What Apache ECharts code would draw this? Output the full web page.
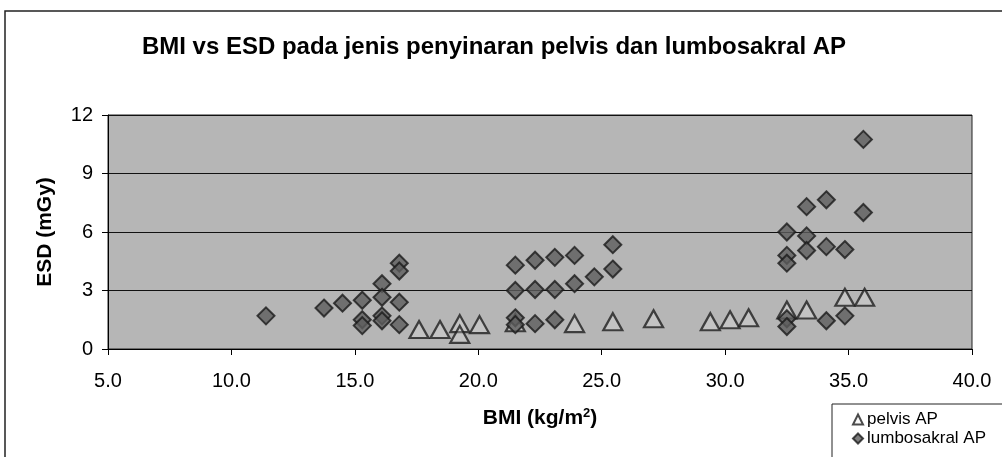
<!DOCTYPE html>
<html>
<head>
<meta charset="utf-8">
<script src="https://cdn.jsdelivr.net/npm/echarts@6/dist/echarts.min.js"></script>
<style>
  html, body { margin: 0; padding: 0; background: #ffffff; }
  #chart { width: 1002px; height: 457px; }
</style>
</head>
<body>
<div id="chart"></div>
<script>
// BMI (kg/m2) and ESD (mGy) per examination
const pelvisBMI = [17.6, 18.45, 19.25, 19.25, 20.05, 21.5, 23.9, 25.45, 27.1, 29.4, 30.2, 30.95, 32.5, 33.3, 34.85, 35.65];
const pelvisESD = [1.0, 1.0, 1.3, 0.75, 1.25, 1.35, 1.3, 1.4, 1.55, 1.4, 1.5, 1.6, 2.0, 2.0, 2.65, 2.65];

const lumboBMI = [11.4, 13.75, 14.5, 15.3, 15.3, 15.3, 16.1, 16.1, 16.1, 16.1, 16.8, 16.8, 16.8, 16.8,
  21.5, 21.5, 21.5, 21.5, 22.3, 22.3, 22.3, 23.1, 23.1, 23.1, 23.9, 23.9, 24.7, 25.45, 25.45,
  32.5, 32.5, 32.5, 32.5, 32.5, 33.3, 33.3, 33.3, 34.1, 34.1, 34.1, 34.85, 34.85, 35.6, 35.6];
const lumboESD = [1.7, 2.1, 2.35, 2.5, 1.5, 1.2, 3.35, 2.65, 1.7, 1.45, 4.4, 4.0, 2.4, 1.25,
  4.3, 3.0, 1.6, 1.25, 4.55, 3.05, 1.3, 4.7, 3.05, 1.5, 4.8, 3.35, 3.7, 5.35, 4.1,
  6.0, 4.8, 4.4, 1.55, 1.15, 7.3, 5.8, 5.05, 7.65, 5.25, 1.45, 5.1, 1.7, 10.75, 7.0];

const seriesNames = ['pelvis AP', 'lumbosakral AP'];
const titleText = 'BMI vs ESD pada jenis penyinaran pelvis dan lumbosakral AP';

const pairs = (xs, ys) => xs.map((x, i) => [x, ys[i]]);
const FONT = '"Liberation Sans", Arial, sans-serif';

const chart = echarts.init(document.getElementById('chart'), null, { renderer: 'canvas' });
chart.setOption({
  animation: false,
  backgroundColor: '#ffffff',
  title: {
    text: titleText,
    left: 489,
    textAlign: 'center',
    top: 30,
    textStyle: { fontFamily: FONT, fontSize: 24, fontWeight: 'bold', color: '#000' }
  },
  grid: {
    left: 108, right: 30, top: 115, bottom: 108,
    show: true,
    backgroundColor: '#b6b6b6',
    borderColor: '#222',
    borderWidth: 1
  },
  xAxis: {
    type: 'value',
    min: 5, max: 40, interval: 5,
    name: 'BMI (kg/m{sup|2})',
    nameLocation: 'middle',
    nameGap: 58,
    nameTextStyle: {
      fontFamily: FONT, fontSize: 21, fontWeight: 'bold', color: '#000',
      rich: { sup: { fontFamily: FONT, fontSize: 13, fontWeight: 'bold', verticalAlign: 'top', padding: [0, 0, 10, 0], color: '#000' } }
    },
    axisLine: { show: true, onZero: false, lineStyle: { color: '#000', width: 1 } },
    axisTick: { show: true, inside: false, length: 6, lineStyle: { color: '#000' } },
    axisLabel: { margin: 22, fontFamily: FONT, fontSize: 20, color: '#000', formatter: v => v.toFixed(1) },
    splitLine: { show: false }
  },
  yAxis: {
    type: 'value',
    min: 0, max: 12, interval: 3,
    name: 'ESD (mGy)',
    nameLocation: 'middle',
    nameGap: 52,
    nameRotate: 90,
    nameTextStyle: { fontFamily: FONT, fontSize: 21, fontWeight: 'bold', color: '#000' },
    axisLine: { show: true, lineStyle: { color: '#000', width: 1 } },
    axisTick: { show: true, inside: false, length: 6, lineStyle: { color: '#000' } },
    axisLabel: { margin: 15, fontFamily: FONT, fontSize: 20, color: '#000' },
    splitLine: { show: true, lineStyle: { color: '#111', width: 1 } }
  },
  legend: {
    orient: 'vertical',
    left: 847, top: 406,
    itemWidth: 10, itemHeight: 10, itemGap: 2,
    textStyle: { fontFamily: FONT, fontSize: 17, color: '#000', padding: [0, 0, 0, -1] },
    data: seriesNames
  },
  series: [
    {
      name: seriesNames[0],
      type: 'scatter',
      symbol: 'triangle',
      symbolSize: [19, 17],
      itemStyle: { color: 'rgba(235,235,235,0.35)', borderColor: '#1e1e1e', borderWidth: 2.2 },
      data: pairs(pelvisBMI, pelvisESD),
      z: 3
    },
    {
      name: seriesNames[1],
      type: 'scatter',
      symbol: 'diamond',
      symbolSize: 17,
      itemStyle: { color: '#5e5e5e', borderColor: '#1a1a1a', borderWidth: 2 },
      data: pairs(lumboBMI, lumboESD),
      z: 4
    }
  ],
  graphic: [
    {
      type: 'polyline',
      shape: { points: [[5, 470], [5, 11], [1010, 11]] },
      style: { stroke: '#222', lineWidth: 1.5, fill: null },
      silent: true
    },
    {
      type: 'rect',
      shape: { x: 832, y: 404, width: 200, height: 70 },
      style: { stroke: '#222', lineWidth: 1, fill: null },
      silent: true
    }
  ]
});
</script>
</body>
</html>
